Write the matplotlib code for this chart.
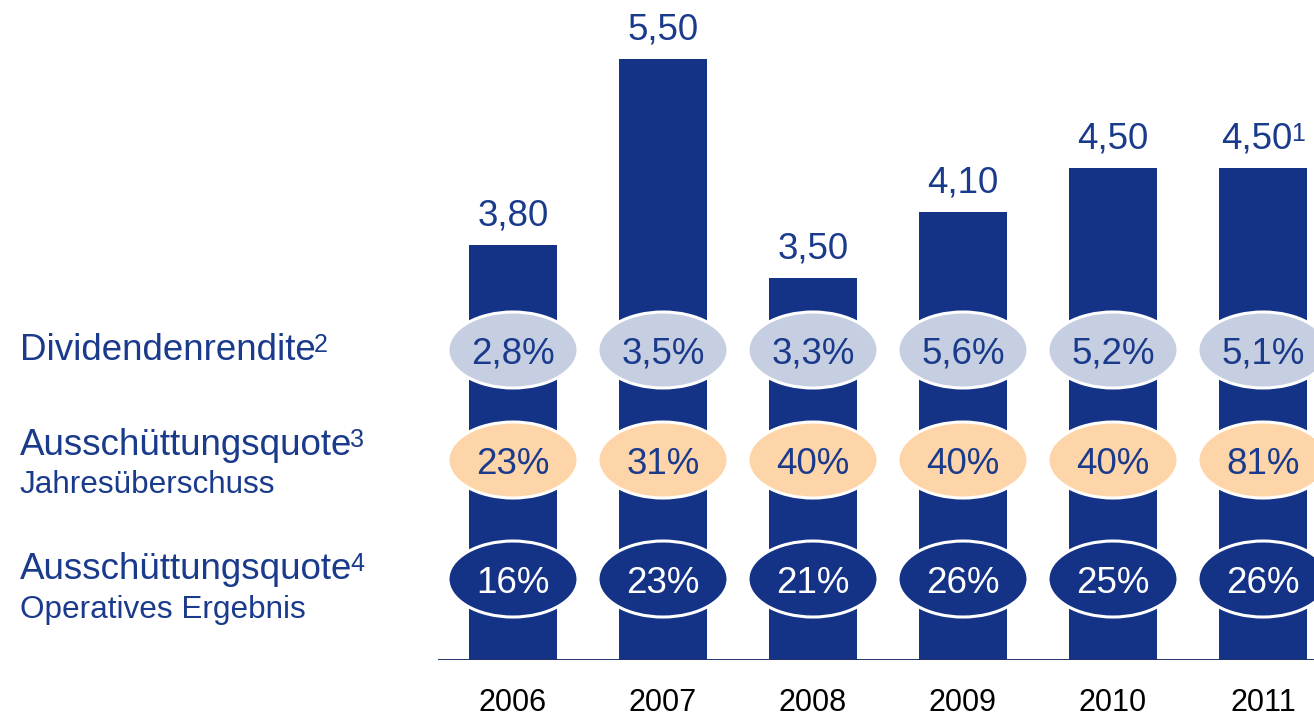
import matplotlib
matplotlib.use("Agg")
import matplotlib.pyplot as plt
from matplotlib.patches import Ellipse
from matplotlib.transforms import blended_transform_factory

plt.rcParams["font.family"] = ["Liberation Sans", "DejaVu Sans"]

# Dividend per share (EUR) by year
years = ["2006", "2007", "2008", "2009", "2010", "2011"]
dividend = [3.80, 5.50, 3.50, 4.10, 4.50, 4.50]
dividend_notes = ["", "", "", "", "", "1"]

# Key ratios shown in the bubbles
dividend_yield = ["2,8%", "3,5%", "3,3%", "5,6%", "5,2%", "5,1%"]
payout_net_income = ["23%", "31%", "40%", "40%", "40%", "81%"]
payout_operating = ["16%", "23%", "21%", "26%", "25%", "26%"]

row_titles = ["Dividendenrendite", "Ausschüttungsquote", "Ausschüttungsquote"]
row_notes = ["2", "3", "4"]
row_subtitles = ["", "Jahresüberschuss", "Operatives Ergebnis"]

NAVY = "#143387"
TEXT_NAVY = "#1A3A8C"
LIGHT = "#C6CEE1"
PEACH = "#FDD5A8"

BIG = 26.5     # main text size
SUP = 18       # footnote marker size
SUP_RAISE = 8  # px the marker baseline sits above the main baseline
SUP_GAP = -2   # px between main text extent and marker

W, H = 1314, 717
DPI = 100
fig = plt.figure(figsize=(W / DPI, H / DPI), dpi=DPI)
fig.patch.set_facecolor("white")
renderer = fig.canvas.get_renderer()


def text_width_px(s, size):
    t = fig.text(0, 0, s, fontsize=size)
    w = t.get_window_extent(renderer).width
    t.remove()
    return w


# Plot area: starts where the baseline starts, runs to the right edge
ax_left, ax_right = 438, 1314
ax_bottom_px, ax_top_px = 660, 0
ax = fig.add_axes([ax_left / W, (H - ax_bottom_px) / H,
                   (ax_right - ax_left) / W, (ax_bottom_px - ax_top_px) / H])
ax.set_xlim(-0.5, 5.34)
ax.set_ylim(0, 6.04)
for s in ax.spines.values():
    s.set_visible(False)
ax.set_yticks([])

x = list(range(len(years)))
ax.bar(x, dividend, width=0.59, color=NAVY, zorder=2)
ax.axhline(0, color="#22346a", lw=1.4, zorder=3)

ax.set_xticks(x)
ax.set_xticklabels(years, fontsize=22, color="black")
ax.tick_params(axis="x", length=0, pad=20)

# Value labels above bars (with optional footnote marker)
LABEL_OFFSET_PT = 14
for xi, v, note in zip(x, dividend, dividend_notes):
    label = f"{v:.2f}".replace(".", ",")
    w_sup = (text_width_px(note, SUP) + SUP_GAP) if note else 0.0
    shift_pt = -w_sup / 2 * 72 / DPI
    t = ax.annotate(label, (xi, v), xytext=(shift_pt, LABEL_OFFSET_PT),
                    textcoords="offset points", ha="center", va="baseline",
                    fontsize=BIG, color=TEXT_NAVY, zorder=4)
    if note:
        bb = t.get_window_extent(renderer)
        base_y = ax.transData.transform((xi, v))[1] + LABEL_OFFSET_PT * DPI / 72
        fig.text((bb.x1 + SUP_GAP) / W, (base_y + SUP_RAISE) / H, note,
                 ha="left", va="baseline", fontsize=SUP, color=TEXT_NAVY)

# Bubble rows (x in data units, y in axes fraction)
trans = blended_transform_factory(ax.transData, ax.transAxes)
rows = [
    (dividend_yield, LIGHT, TEXT_NAVY, 0.4697),
    (payout_net_income, PEACH, TEXT_NAVY, 0.303),
    (payout_operating, NAVY, "white", 0.1227),
]
ell_w = 130 / 150
ell_h = 76 / 660
for labels, fc, tc, yc in rows:
    for xi, lab in zip(x, labels):
        e = Ellipse((xi, yc), ell_w, ell_h, transform=trans, facecolor=fc,
                    edgecolor="white", lw=2.2, zorder=5, clip_on=False)
        ax.add_patch(e)
        ax.text(xi, yc, lab, transform=trans, ha="center", va="center_baseline",
                fontsize=BIG, color=tc, zorder=6)

# Row captions on the left
title_baselines = [360, 455, 579]
sub_baselines = [None, 493, 618]
for title, note, sub, tb, sb in zip(row_titles, row_notes, row_subtitles,
                                    title_baselines, sub_baselines):
    t = fig.text(20 / W, (H - tb) / H, title, ha="left", va="baseline",
                 fontsize=BIG, color=TEXT_NAVY)
    bb = t.get_window_extent(renderer)
    fig.text((bb.x1 + SUP_GAP) / W, (H - tb + SUP_RAISE) / H, note, ha="left",
             va="baseline", fontsize=SUP, color=TEXT_NAVY)
    if sub:
        fig.text(20 / W, (H - sb) / H, sub, ha="left", va="baseline",
                 fontsize=22.7, color=TEXT_NAVY)

fig.savefig("out.png", dpi=DPI, facecolor="white")
